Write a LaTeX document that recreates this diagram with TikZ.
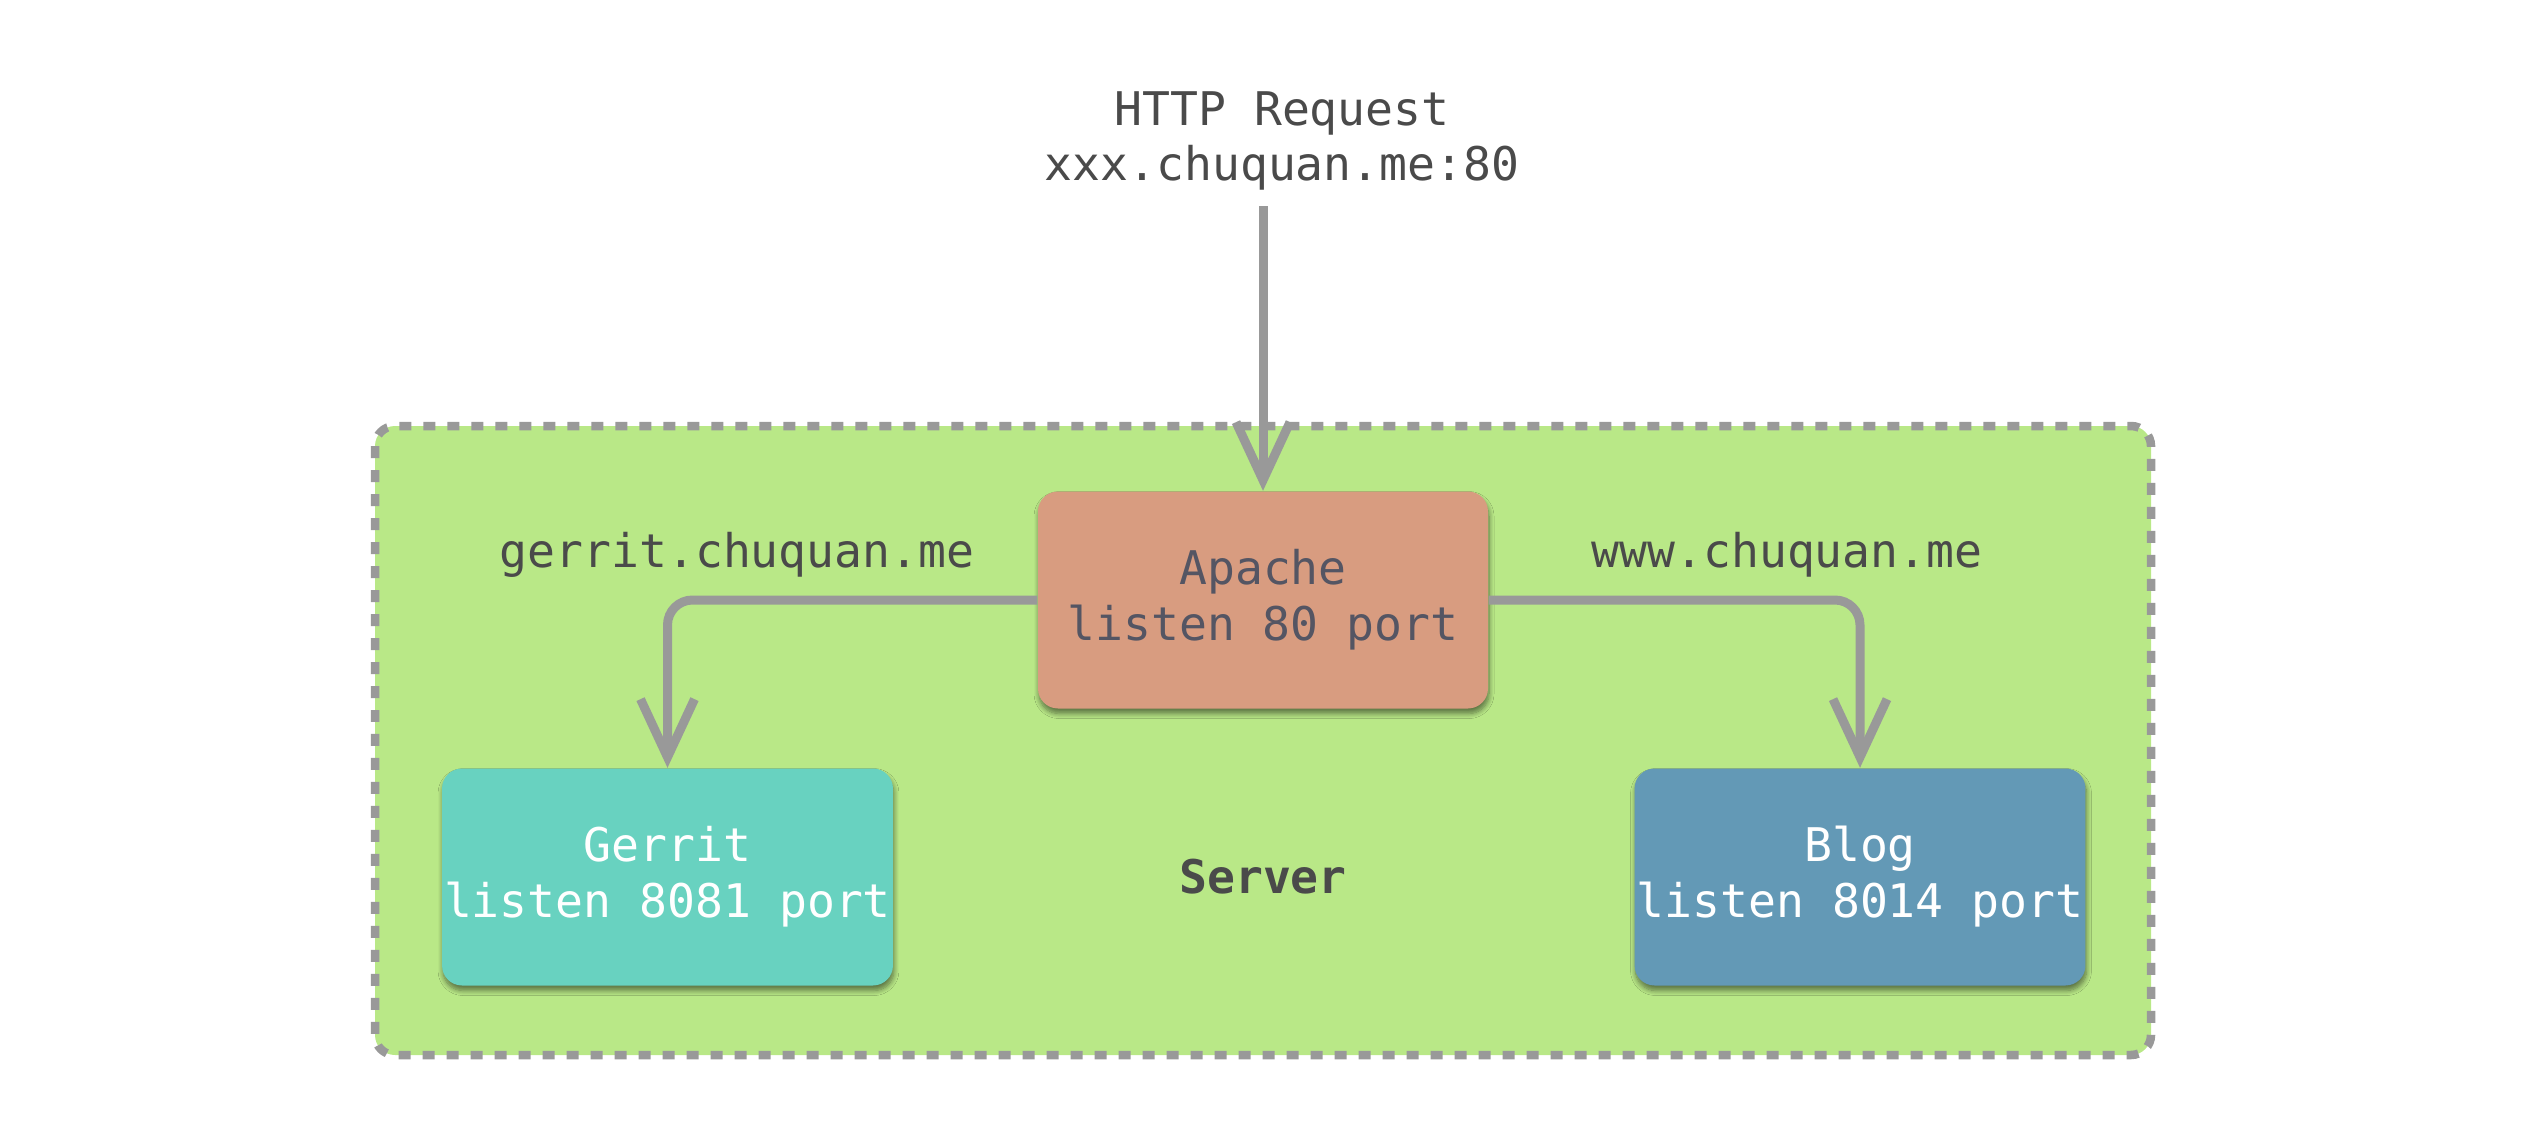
\documentclass[tikz,border=0pt]{standalone}
\usepackage{fontspec}
\setmonofont{DejaVu Sans Mono}
\usetikzlibrary{arrows.meta,shadows.blur}
\definecolor{servergreen}{HTML}{B9E887}
\definecolor{apachered}{HTML}{D89C80}
\definecolor{gerritcyan}{HTML}{68D2C0}
\definecolor{blogblue}{HTML}{6399B6}
\definecolor{linegray}{HTML}{999999}
\definecolor{textgray}{HTML}{4A4A4A}
\definecolor{apachetext}{HTML}{545563}
\begin{document}
\begin{tikzpicture}[
    every node/.style={font=\ttfamily\fontsize{13.2}{15.9}\selectfont, text=textgray, align=center},
    box/.style={rounded corners=0.2cm, minimum width=4.5cm, minimum height=2.17cm, inner xsep=0.02cm,
      blur shadow={shadow xshift=0.01cm, shadow yshift=-0.05cm, shadow blur radius=0.05cm,
        shadow blur steps=8, shadow opacity=50}},
    link/.style={draw=linegray, line width=0.09cm, rounded corners=0.25cm,
      -{Straight Barb[length=0.58cm, width=0.54cm]}}
  ]
  \useasboundingbox (0,0) rectangle (25.23,-11.34);
  % server area
  \draw[fill=servergreen, draw=linegray, line width=0.085cm, rounded corners=0.2cm,
    dash pattern=on 0.12cm off 0.12cm] (3.75,-4.26) rectangle (21.51,-10.55);
  \node[font=\ttfamily\bfseries\fontsize{13.2}{15.9}\selectfont] (server) at (12.63,-8.77) {Server};
  % services
  \node[box, fill=apachered, text=apachetext] (apache) at (12.63,-6.00) {Apache\\listen 80 port};
  \node[box, fill=gerritcyan, text=white] (gerrit) at (6.675,-8.77) {Gerrit\\listen 8081 port};
  \node[box, fill=blogblue, text=white] (blog) at (18.60,-8.77) {Blog\\listen 8014 port};
  % request
  \node (http) at (12.82,-1.41) {HTTP Request\\xxx.chuquan.me:80};
  \coordinate (req) at (12.63,-2.06);
  \draw[link] (req) -- (apache.north);
  \draw[link] (apache.west) -| (gerrit.north);
  \draw[link] (apache.east) -| (blog.north);
  \node (gerritname) at (7.37,-5.55) {gerrit.chuquan.me};
  \node (blogname) at (17.87,-5.55) {www.chuquan.me};
\end{tikzpicture}
\end{document}
